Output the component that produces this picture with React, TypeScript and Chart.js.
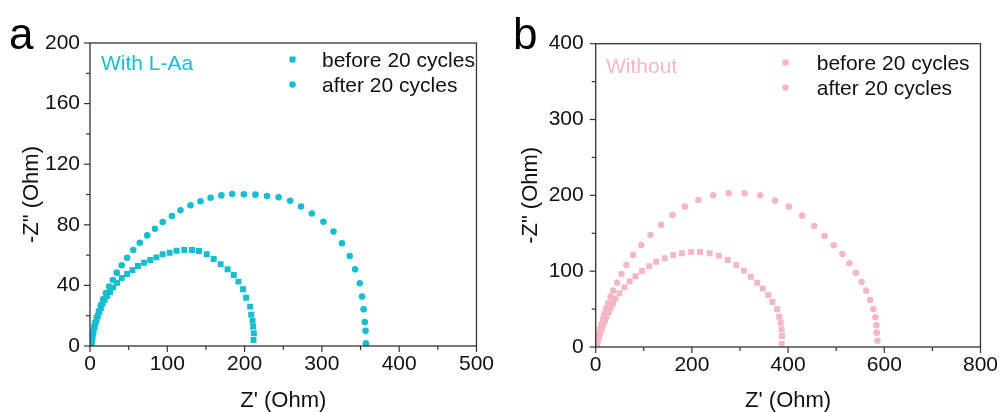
import React, { useEffect, useRef } from 'react';
import { Chart, registerables } from 'chart.js';

Chart.register(...registerables);

// ---------- data ----------
const aBeforeRe = [211.5, 212, 211, 210.3, 208.5, 207.2, 202, 198, 192, 186, 178, 169, 160, 151, 141, 132, 122, 112, 103, 94, 86, 78, 70, 62, 55, 48, 41, 35, 30, 26, 22, 19, 16.5, 14, 12, 10, 8.5, 7, 5.5, 4.5, 3.5, 2.7, 2, 1.5];
const aBeforeIm = [4, 8.4, 12.8, 16.7, 20.7, 26, 31.9, 37.4, 42.5, 46.9, 50.6, 53.9, 57.4, 60.5, 62.7, 63.4, 63.4, 62.9, 61.6, 60.5, 58.5, 56.8, 55, 52.8, 50.2, 47.5, 44.9, 41.8, 38.7, 35.6, 33, 30.5, 28, 25, 22.5, 20, 17.5, 15, 12.5, 10, 7.5, 5, 3, 1];

const aAfterRe = [357, 356.5, 355.5, 354, 352, 349, 343, 336, 326, 315, 302, 287, 273, 259, 244, 229, 214, 199, 184, 170, 156, 143, 130, 117, 106, 94, 84, 74, 64.5, 56, 48, 41, 34.6, 29.5, 24.7, 20.5, 17, 14, 11.5, 9, 7, 5.5, 4, 3, 2.2];
const aAfterIm = [1.7, 10, 15.8, 24.2, 32.6, 41.4, 50.6, 59.4, 67.8, 75.5, 82, 87.5, 92, 95.8, 98.2, 99, 99.9, 100.1, 100.3, 99.4, 97.9, 95.5, 92.9, 89.6, 85.8, 81.8, 77.4, 73, 68.2, 63.4, 58.3, 53.3, 48.4, 43.6, 39.2, 35, 31, 27, 23, 19, 15.5, 12, 8.5, 5, 2];

const bBeforeRe = [386.5, 387.3, 386.5, 384.5, 381.7, 377, 367.3, 359, 347.3, 335.8, 322.6, 308.2, 292.5, 274.6, 256, 236.9, 217, 198.4, 179.2, 161.3, 143.4, 125.7, 111.2, 96, 83, 70.7, 60, 49.5, 41, 36.3, 31.5, 27, 23, 19.5, 16, 13, 10.5, 8, 6, 4.5, 3.2, 2.3, 1.6];
const bBeforeIm = [4, 14.5, 23.3, 32, 40, 49.7, 59.4, 68.6, 77, 84.8, 92.7, 100.7, 108.2, 114.8, 120.5, 123.6, 125.3, 125.3, 123.6, 121.4, 117, 112.5, 106.4, 100.3, 93.2, 86.5, 79, 70.8, 64, 57.6, 51.5, 46, 40.5, 35, 30, 25, 20.5, 16, 12, 8.5, 5.5, 3, 1];

const bAfterRe = [585.8, 584.3, 583.6, 581.6, 577.5, 570.7, 562.4, 552.7, 541, 527.4, 513, 495, 475.9, 453.9, 429.1, 401.7, 372.9, 342, 309.6, 276.7, 244.3, 213.4, 185.4, 159.9, 136, 113.9, 94.8, 77.5, 63.9, 53.6, 44.5, 36.3, 30.9, 26, 22, 18, 15, 12, 9.5, 7.5, 5.5, 4, 3, 2.2];
const bAfterIm = [8.3, 18.9, 28.6, 39.2, 50.1, 62, 74.3, 85.8, 98, 110.4, 122.7, 134.2, 146.4, 159.6, 173.2, 185.1, 193, 200.1, 202.8, 202.8, 200.1, 193.9, 185.1, 174.1, 161, 147.8, 134.6, 121.4, 108.2, 96.3, 84.8, 74.3, 66.4, 58, 51, 44, 37, 30, 24, 18, 13, 8, 4, 1.5];

const aXTicks = [0, 100, 200, 300, 400, 500];
const aYTicks = [0, 40, 80, 120, 160, 200];
const bXTicks = [0, 200, 400, 600, 800];
const bYTicks = [0, 100, 200, 300, 400];

const seriesNames = ['before 20 cycles', 'after 20 cycles'];
const xTitle = "Z' (Ohm)";
const yTitle = '-Z" (Ohm)';

const TEAL = '#17BECF';
const PINK = '#F4B7C6';
const FONT = "'Liberation Sans', Arial, Helvetica, sans-serif";

const pts = (re: number[], im: number[]) => re.map((x, i) => ({ x, y: im[i] }));

type Panel = {
  letter: string;
  label: string;
  color: string;
  before: { x: number; y: number }[];
  after: { x: number; y: number }[];
  xTicks: number[];
  yTicks: number[];
  xMinor: number;
  yMinor: number;
  yAxisWidth: number;
  padRight: number;
  padTop: number;
  xAxisHeight: number;
  yTickPad: number;
  yTitlePad: number;
  letterX: number;
  labelX: number;
  legendMarkX: number;
  legendTextX: number;
  legendY0: number;
};

const framePlugin = {
  id: 'frameDeco',
  afterDraw(chart: any, _args: any, opts: any) {
    const p: Panel = opts.panel;
    if (!p) return;
    const { ctx, chartArea } = chart;
    const { left, right, top, bottom } = chartArea;
    const xs = chart.scales.x;
    const ys = chart.scales.y;
    ctx.save();
    ctx.strokeStyle = '#333333';
    ctx.lineWidth = 1.3;
    ctx.strokeRect(left, top, right - left, bottom - top);
    ctx.lineWidth = 1.2;
    for (const t of xs.ticks) {
      const px = xs.getPixelForValue(t.value);
      const len = p.xTicks.includes(t.value) ? 6 : 4;
      ctx.beginPath();
      ctx.moveTo(px, bottom);
      ctx.lineTo(px, bottom + len);
      ctx.stroke();
    }
    for (const t of ys.ticks) {
      const py = ys.getPixelForValue(t.value);
      const len = p.yTicks.includes(t.value) ? 6 : 4;
      ctx.beginPath();
      ctx.moveTo(left, py);
      ctx.lineTo(left - len, py);
      ctx.stroke();
    }
    // panel letter
    ctx.fillStyle = '#000';
    ctx.textBaseline = 'alphabetic';
    ctx.textAlign = 'left';
    ctx.font = `44px ${FONT}`;
    ctx.fillText(p.letter, p.letterX, 49);
    // panel label
    ctx.font = `21px ${FONT}`;
    ctx.fillStyle = p.color;
    ctx.fillText(p.label, p.labelX, p.legendY0 + 3);
    // legend
    const rows = [p.legendY0, p.legendY0 + 25];
    rows.forEach((by, i) => {
      const cy = by - 7.5;
      ctx.fillStyle = p.color;
      if (i === 0) {
        ctx.fillRect(p.legendMarkX - 3, cy - 3, 6, 6);
      } else {
        ctx.beginPath();
        ctx.arc(p.legendMarkX, cy, 3.3, 0, Math.PI * 2);
        ctx.fill();
      }
      ctx.fillStyle = '#111';
      ctx.fillText(seriesNames[i], p.legendTextX, by);
    });
    ctx.restore();
  },
};

function PanelChart({ p }: { p: Panel }) {
  const ref = useRef<HTMLCanvasElement | null>(null);
  useEffect(() => {
    if (!ref.current) return;
    const xMax = p.xTicks[p.xTicks.length - 1];
    const yMax = p.yTicks[p.yTicks.length - 1];
    const chart = new Chart(ref.current, {
      type: 'scatter',
      data: {
        datasets: [
          {
            label: seriesNames[0],
            data: p.before,
            pointStyle: 'rect',
            pointRadius: 4.2,
            pointHoverRadius: 4.2,
            backgroundColor: p.color,
            pointBackgroundColor: p.color,
            borderWidth: 0,
            pointBorderWidth: 0,
            showLine: false,
          },
          {
            label: seriesNames[1],
            data: p.after,
            pointStyle: 'circle',
            pointRadius: 3.3,
            pointHoverRadius: 3.3,
            backgroundColor: p.color,
            pointBackgroundColor: p.color,
            borderWidth: 0,
            pointBorderWidth: 0,
            showLine: false,
          },
        ],
      },
      options: {
        animation: false,
        responsive: true,
        maintainAspectRatio: false,
        events: [],
        layout: { padding: { top: p.padTop, right: p.padRight, left: 0, bottom: 0 } },
        plugins: {
          legend: { display: false },
          tooltip: { enabled: false },
          frameDeco: { panel: p },
        } as any,
        scales: {
          x: {
            type: 'linear',
            min: 0,
            max: xMax,
            grid: { display: false, drawTicks: false },
            border: { display: false },
            afterFit: (s: any) => {
              s.height = p.xAxisHeight;
            },
            ticks: {
              stepSize: p.xMinor,
              autoSkip: false,
              maxRotation: 0,
              padding: 6,
              color: '#111',
              font: { family: FONT, size: 21 },
              callback: (v: any) => (p.xTicks.includes(Number(v)) ? String(v) : ''),
            },
            title: {
              display: true,
              text: xTitle,
              color: '#111',
              font: { family: FONT, size: 22, lineHeight: 1 },
              padding: { top: 0, bottom: 0 },
            },
          },
          y: {
            type: 'linear',
            min: 0,
            max: yMax,
            grid: { display: false, drawTicks: false },
            border: { display: false },
            afterFit: (s: any) => {
              s.width = p.yAxisWidth;
            },
            ticks: {
              stepSize: p.yMinor,
              autoSkip: false,
              padding: p.yTickPad,
              color: '#111',
              font: { family: FONT, size: 21 },
              callback: (v: any) => (p.yTicks.includes(Number(v)) ? String(v) : ''),
            },
            title: {
              display: true,
              text: yTitle,
              color: '#111',
              font: { family: FONT, size: 22, lineHeight: 1 },
              padding: { top: p.yTitlePad, bottom: 0 },
            },
          },
        },
      },
      plugins: [framePlugin],
    } as any);
    return () => chart.destroy();
  }, [p]);
  return <canvas ref={ref} />;
}

const panelA: Panel = {
  letter: 'a',
  label: 'With L-Aa',
  color: TEAL,
  before: pts(aBeforeRe, aBeforeIm),
  after: pts(aAfterRe, aAfterIm),
  xTicks: aXTicks,
  yTicks: aYTicks,
  xMinor: 50,
  yMinor: 20,
  yAxisWidth: 90,
  padRight: 20,
  padTop: 43,
  xAxisHeight: 66,
  yTickPad: 10,
  yTitlePad: 21,
  letterX: 9,
  labelX: 101,
  legendMarkX: 292.5,
  legendTextX: 322,
  legendY0: 67,
};

const panelB: Panel = {
  letter: 'b',
  label: 'Without',
  color: PINK,
  before: pts(bBeforeRe, bBeforeIm),
  after: pts(bAfterRe, bAfterIm),
  xTicks: bXTicks,
  yTicks: bYTicks,
  xMinor: 100,
  yMinor: 50,
  yAxisWidth: 95.7,
  padRight: 19.7,
  padTop: 43.7,
  xAxisHeight: 65,
  yTickPad: 12,
  yTitlePad: 20,
  letterX: 13,
  labelX: 106,
  legendMarkX: 285.5,
  legendTextX: 316.7,
  legendY0: 70,
};

export default function App() {
  return (
    <div style={{ position: 'absolute', left: 0, top: 0, width: 1004, height: 412, background: '#fff' }}>
      <div style={{ position: 'absolute', left: 0, top: 0, width: 500, height: 412 }}>
        <PanelChart p={panelA} />
      </div>
      <div style={{ position: 'absolute', left: 500, top: 0, width: 504, height: 412 }}>
        <PanelChart p={panelB} />
      </div>
    </div>
  );
}
